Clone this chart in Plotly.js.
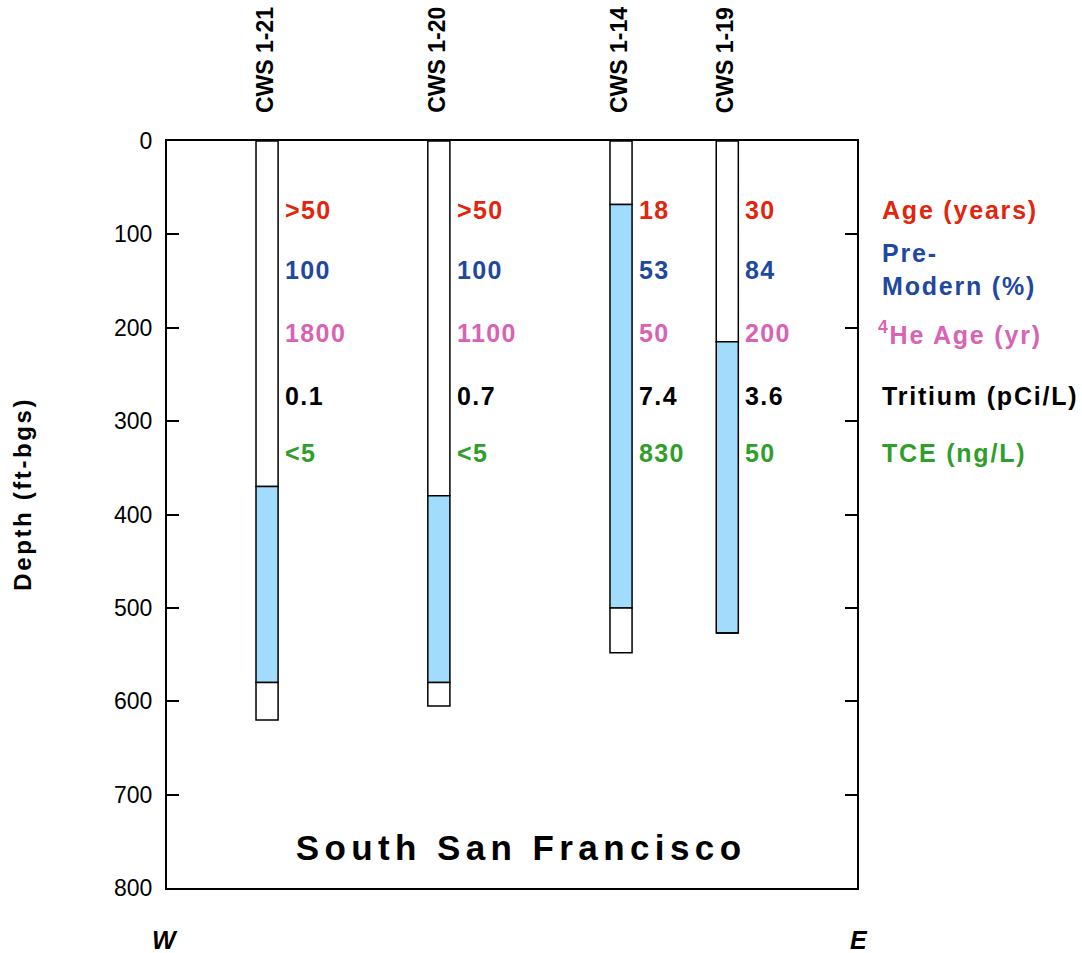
<!DOCTYPE html>
<html>
<head>
<meta charset="utf-8">
<script src="https://cdn.plot.ly/plotly-3.0.1.min.js"></script>
<style>
html,body{margin:0;padding:0;background:#fff;}
#chart{width:1082px;height:953px;}
</style>
</head>
<body>
<div id="chart"></div>
<script>
// ---- data ----
var wells = ['CWS 1-21', 'CWS 1-20', 'CWS 1-14', 'CWS 1-19'];
var wellPos = [0.145, 0.394, 0.658, 0.812];          // relative W–E location
var totalDepth = [620, 605, 548, 527];               // ft-bgs
var screenTop = [370, 380, 68, 215];                 // ft-bgs
var screenBottom = [580, 580, 500, 527];             // ft-bgs
var age = ['>50', '>50', '18', '30'];
var preModern = ['100', '100', '53', '84'];
var heAge = ['1800', '1100', '50', '200'];
var tritium = ['0.1', '0.7', '7.4', '3.6'];
var tce = ['<5', '<5', '830', '50'];
var rowLabels = ['Age (years)', 'Pre-<br>Modern (%)', '<sup>4</sup>He Age (yr)', 'Tritium (pCi/L)', 'TCE (ng/L)'];
var rowColors = ['#e2250c', '#1f48a0', '#d863b5', '#000000', '#2f9e2a'];
var rowDepth = [74, 138, 206, 273, 334];
var depthTicks = [0, 100, 200, 300, 400, 500, 600, 700, 800];

var FONT = 'Liberation Sans, Arial, Helvetica, sans-serif';
var barW = wellPos.map(function(){ return 0.032; });
var line = {color: '#000', width: 1.5};

var upper = {
  type: 'bar', x: wellPos, base: wells.map(function(){return 0;}),
  y: screenTop, width: barW,
  marker: {color: '#ffffff', line: line}, hoverinfo: 'skip', showlegend: false
};
var screen = {
  type: 'bar', x: wellPos, base: screenTop,
  y: screenBottom.map(function(b, i){ return b - screenTop[i]; }), width: barW,
  marker: {color: '#a2dcfd', line: line}, hoverinfo: 'skip', showlegend: false
};
var lower = {
  type: 'bar', x: wellPos, base: screenBottom,
  y: totalDepth.map(function(d, i){ return d - screenBottom[i]; }), width: barW,
  marker: {color: '#ffffff', line: line}, hoverinfo: 'skip', showlegend: false
};

var annotations = [];
var rows = [age, preModern, heAge, tritium, tce];
rows.forEach(function(vals, r){
  vals.forEach(function(v, i){
    annotations.push({
      x: wellPos[i], y: rowDepth[r], xref: 'x', yref: 'y',
      text: v, showarrow: false, xanchor: 'left', yanchor: 'middle', align: 'left',
      xshift: 16, font: {family: FONT, size: 25, color: rowColors[r], weight: 'bold'},
      name: 'val'
    });
  });
  annotations.push({
    x: 1, y: rowDepth[r], xref: 'paper', yref: 'y',
    text: rowLabels[r], showarrow: false, xanchor: 'left', yanchor: 'middle', align: 'left',
    xshift: r === 2 ? 19 : 23, font: {family: FONT, size: 25, color: rowColors[r], weight: 'bold'},
    name: 'row'
  });
});
wells.forEach(function(w, i){
  annotations.push({
    x: wellPos[i], y: 1.1004, xref: 'x', yref: 'paper', text: w, textangle: -90,
    showarrow: false, xanchor: 'center', yanchor: 'middle', xshift: -2, yshift: 6,
    font: {family: FONT, size: 23, color: '#000', weight: 'bold'}
  });
});
annotations.push({
  x: 0.513, y: 757, xref: 'x', yref: 'y', text: 'South San Francisco', showarrow: false,
  xanchor: 'center', yanchor: 'middle', align: 'center',
  font: {family: FONT, size: 35, color: '#000', weight: 'bold'}, name: 'title'
});
annotations.push({
  x: -0.21, y: 0.527, xref: 'paper', yref: 'paper', text: 'Depth (ft-bgs)', textangle: -90,
  showarrow: false, xanchor: 'center', yanchor: 'middle', align: 'center',
  font: {family: FONT, size: 24, color: '#000', weight: 'bold'}, name: 'depth'
});
annotations.push({
  x: 0, y: -0.07, xref: 'paper', yref: 'paper', text: '<i>W</i>', showarrow: false,
  xanchor: 'center', yanchor: 'middle', xshift: -2,
  font: {family: FONT, size: 25, color: '#000', weight: 'bold'}
});
annotations.push({
  x: 1, y: -0.07, xref: 'paper', yref: 'paper', text: '<i>E</i>', showarrow: false,
  xanchor: 'center', yanchor: 'middle', xshift: 2,
  font: {family: FONT, size: 25, color: '#000', weight: 'bold'}
});

var layout = {
  width: 1082, height: 953,
  margin: {l: 167, r: 225, t: 141, b: 65},
  paper_bgcolor: '#fff', plot_bgcolor: '#fff',
  barmode: 'overlay', showlegend: false,
  xaxis: {range: [0, 1], showticklabels: false, ticks: '', showgrid: false, zeroline: false,
          showline: true, mirror: true, linecolor: '#000', linewidth: 2, fixedrange: true},
  yaxis: {range: [800, 0], tickvals: depthTicks, ticktext: depthTicks.map(String),
          ticks: 'inside', ticklen: 12, tickwidth: 2, tickcolor: '#000',
          showgrid: false, zeroline: false, showline: true, mirror: 'ticks',
          linecolor: '#000', linewidth: 2, ticklabelstandoff: 8,
          tickfont: {family: FONT, size: 23, color: '#000'}, fixedrange: true},
  annotations: annotations
};

Plotly.newPlot('chart', [upper, screen, lower], layout, {displayModeBar: false, staticPlot: true}).then(function(gd){
  var spacing = {val: '1.4px', row: '1.8px', title: '5.4px', depth: '2.6px'};
  var groups = gd.querySelectorAll('g.annotation');
  groups.forEach(function(g){
    var idx = +g.getAttribute('data-index');
    var a = gd.layout.annotations[idx];
    if (a && spacing[a.name]) {
      var t = g.querySelector('text.annotation-text');
      if (t) t.style.letterSpacing = spacing[a.name];
    }
  });
});
</script>
</body>
</html>
